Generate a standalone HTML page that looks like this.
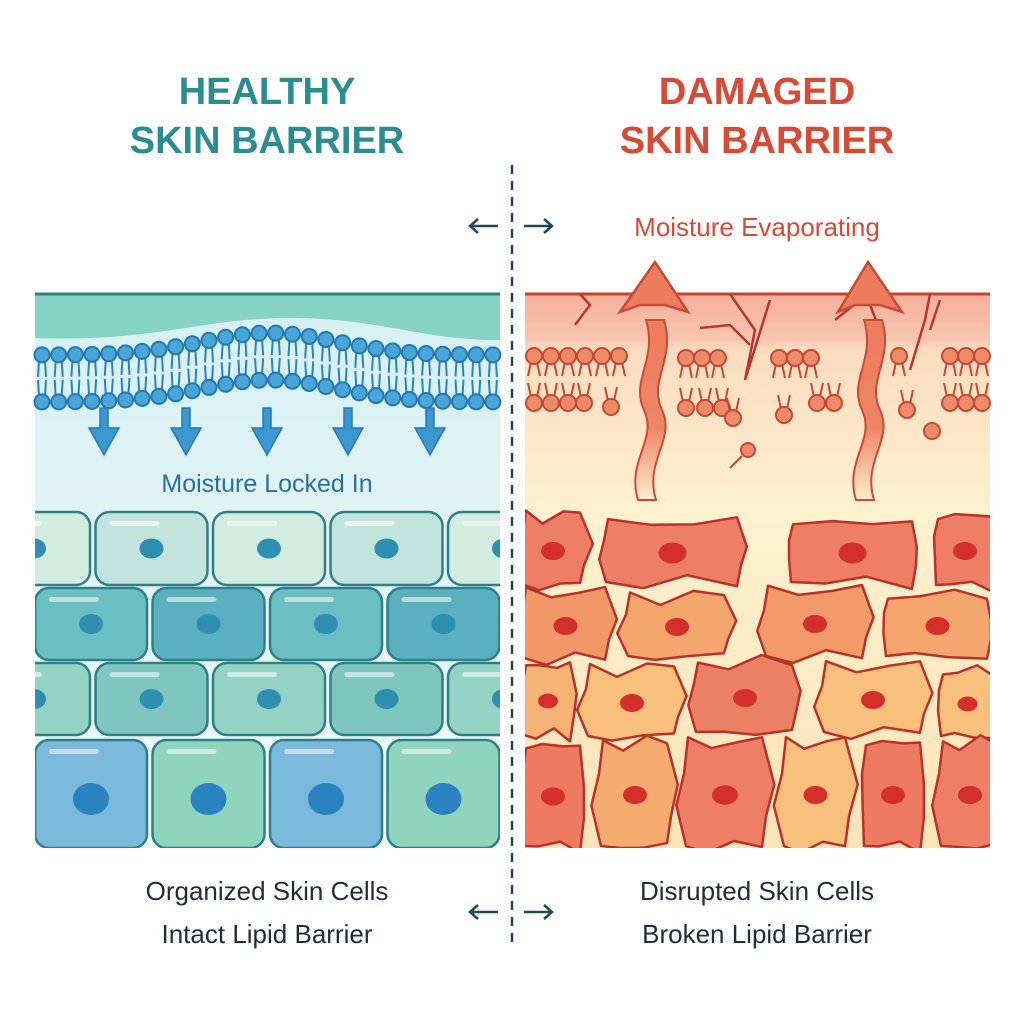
<!DOCTYPE html>
<html><head><meta charset="utf-8"><style>
html,body{margin:0;padding:0;background:#fff;width:1024px;height:1024px;overflow:hidden}
svg{display:block}
text{font-family:"Liberation Sans",sans-serif}
</style></head><body>
<svg id="s" width="1024" height="1024" viewBox="0 0 1024 1024" xmlns="http://www.w3.org/2000/svg">
<defs>
<linearGradient id="lbg" x1="0" y1="0" x2="0" y2="1"><stop offset="0" stop-color="#d6f0f2"/><stop offset="1" stop-color="#eef9fa"/></linearGradient>
<linearGradient id="rbg" x1="0" y1="0" x2="0" y2="1"><stop offset="0" stop-color="#f5b09c"/><stop offset="0.08" stop-color="#f8c4ae"/><stop offset="0.1" stop-color="#fbdcc0"/><stop offset="0.4" stop-color="#fdf1cf"/><stop offset="1" stop-color="#fbe3b8"/></linearGradient>
<linearGradient id="arr" x1="0" y1="1" x2="0" y2="0"><stop offset="0" stop-color="#f08a6c" stop-opacity="0"/><stop offset="0.4" stop-color="#ee8566"/><stop offset="1" stop-color="#ee7b5e"/></linearGradient>
</defs>
<text x="267" y="104" text-anchor="middle" font-size="38" font-weight="bold" fill="#2b8d92">HEALTHY</text>
<text x="267" y="153" text-anchor="middle" font-size="38" font-weight="bold" fill="#2b8d92">SKIN BARRIER</text>
<text x="757" y="104" text-anchor="middle" font-size="38" font-weight="bold" fill="#d64a36">DAMAGED</text>
<text x="757" y="153" text-anchor="middle" font-size="38" font-weight="bold" fill="#d64a36">SKIN BARRIER</text>
<text x="757" y="236" text-anchor="middle" font-size="26" fill="#d64a36">Moisture Evaporating</text>
<line x1="512" y1="165" x2="512" y2="948" stroke="#1f4a55" stroke-width="2.5" stroke-dasharray="9,7"/>
<g stroke="#1f4a55" stroke-width="2.5" fill="none">
<path d="M498 226H470M478 219L470 226L478 233M524 226H552M544 219L552 226L544 233"/>
<path d="M498 912H470M478 905L470 912L478 919M524 912H552M544 905L552 912L544 919"/>
</g>
<rect x="35" y="294" width="465" height="554" fill="url(#lbg)"/>
<path d="M35 294H500V340C420 340 380 318 290 318C200 318 160 342 35 338Z" fill="#86d2c4"/>
<line x1="35" y1="294" x2="500" y2="294" stroke="#2d7f82" stroke-width="3"/>
<g id="lipL"></g>
<g id="arrL" fill="#3b97cf" stroke="#2a79b0" stroke-width="1.5"></g>
<text x="267" y="492" text-anchor="middle" font-size="25" fill="#2b6f9e">Moisture Locked In</text>
<g id="cellsL"></g>
<rect x="525" y="294" width="465" height="554" fill="url(#rbg)"/>
<path d="M525 294H990" stroke="#c7412e" stroke-width="3"/>
<path d="M580 294L590 305L575 325M730 294L755 330L745 380L770 300M860 300L835 320M870 305L880 330M930 294L925 320L910 370M940 300L930 330" stroke="#b8362a" stroke-width="2.5" fill="none"/>
<path d="M700 328L730 325L750 345" stroke="#b8362a" stroke-width="2.5" fill="none"/>
<g id="lipR" stroke="#c24a33" stroke-width="2"></g>
<g id="cellsR"></g>
<path d="M638 500C626 460 658 440 644 410C630 380 658 360 646 320L664 320C676 360 648 380 662 410C676 440 644 460 656 500Z" fill="url(#arr)" stroke="#c94a35" stroke-width="2"/>
<path d="M620 312L655 262L688 312L665 305L640 305Z" fill="#ee7b5e" stroke="#c94a35" stroke-width="2.5"/>
<path d="M856 500C844 460 876 440 862 410C848 380 876 360 864 320L882 320C894 360 866 380 880 410C894 440 862 460 874 500Z" fill="url(#arr)" stroke="#c94a35" stroke-width="2"/>
<path d="M838 312L868 262L902 312L880 305L855 305Z" fill="#ee7b5e" stroke="#c94a35" stroke-width="2.5"/>
<text x="267" y="900" text-anchor="middle" font-size="26" fill="#1e2e38">Organized Skin Cells</text>
<text x="267" y="943" text-anchor="middle" font-size="26" fill="#1e2e38">Intact Lipid Barrier</text>
<text x="757" y="900" text-anchor="middle" font-size="26" fill="#1e2e38">Disrupted Skin Cells</text>
<text x="757" y="943" text-anchor="middle" font-size="26" fill="#1e2e38">Broken Lipid Barrier</text>
</svg>
<script>
const NS="http://www.w3.org/2000/svg";
function el(p,t,a){const e=document.createElementNS(NS,t);for(const k in a)e.setAttribute(k,a[k]);p.appendChild(e);return e;}
const L=document.getElementById('lipL');
for(let x=42;x<=494;x+=16.7){
 const d=-22*Math.exp(-Math.pow((x-270)/95,2));
 const t=355+d,b=402+d;
 el(L,'path',{d:`M${x-3} ${t+6}L${x-4} ${t+22}M${x+3} ${t+6}L${x+4} ${t+22}M${x-3} ${b-6}L${x-4} ${b-22}M${x+3} ${b-6}L${x+4} ${b-22}`,stroke:'#2a82bb','stroke-width':2,fill:'none'});
}
for(let x=42;x<=494;x+=16.7){
 const d=-22*Math.exp(-Math.pow((x-270)/95,2));
 el(L,'circle',{cx:x,cy:355+d,r:7.5,fill:'#4aa6d8',stroke:'#2477b0','stroke-width':2});
 el(L,'circle',{cx:x,cy:402+d,r:7.5,fill:'#4aa6d8',stroke:'#2477b0','stroke-width':2});
}
const A=document.getElementById('arrL');
[104,186,267,348,430].forEach(x=>{el(A,'path',{d:`M${x-4} 408V428H${x-15}L${x} 455L${x+15} 428H${x+4}V408Z`});});
const C=document.getElementById('cellsL');
const rows=[[512,585,-22,'#d2ece0','#c3e4dc'],[588,660,35,'#6bbfc2','#5bb0c0'],[663,735,-22,'#94d3c4','#7fc6c0'],[740,848,35,'#7ab8dc','#8fd4bc']];
const cl=el(C,'clipPath',{id:'cl'});el(cl,'rect',{x:35,y:294,width:465,height:554});
const g=el(C,'g',{'clip-path':'url(#cl)'});
rows.forEach((r,i)=>{
 for(let k=0;k<6;k++){
  const x=r[2]+k*117.5;const w=112;
  el(g,'rect',{x:x,y:r[0],width:w,height:r[1]-r[0],rx:14,fill:k%2?r[4]:r[3],stroke:'#2f7f88','stroke-width':2.5});
  el(g,'rect',{x:x+14,y:r[0]+9,width:50,height:5,rx:2.5,fill:'#fff',opacity:0.55});
  const rr=i==3?16:10;
  el(g,'ellipse',{cx:x+w/2,cy:(r[0]+r[1])/2+(i==3?5:0),rx:rr+2,ry:rr,fill:i==3?'#2b82c0':'#2f8fb0'});
 }
});
const R=document.getElementById('lipR');
function lip(x,y,up){
 const s=up?1:-1;
 el(R,'path',{d:`M${x-3} ${y+6*s}L${x-6} ${y+20*s}M${x+3} ${y+6*s}L${x+6} ${y+20*s}`,fill:'none'});
 el(R,'circle',{cx:x,cy:y,r:8,fill:'#ee8a6a'});
}
[534,551,568,585,602,619].forEach(x=>lip(x,356,1));
[534,551,568,584].forEach(x=>lip(x,403,0));lip(611,407,0);
[686,702,718].forEach(x=>lip(x,358,1));[686,705,722].forEach(x=>lip(x,408,0));lip(733,418,0);
[779,795,811].forEach(x=>lip(x,358,1));[784].forEach(x=>lip(x,415,0));[817,834].forEach(x=>lip(x,403,0));
lip(899,356,1);lip(907,410,0);[950,966,982].forEach(x=>lip(x,356,1));[950,966,982].forEach(x=>lip(x,403,0));
el(R,'circle',{cx:932,cy:431,r:8,fill:'#ee8a6a'});
el(R,'circle',{cx:748,cy:450,r:7,fill:'#ee8a6a'});el(R,'path',{d:'M742 456L730 468'});
const CR=document.getElementById('cellsR');
const cr=el(CR,'clipPath',{id:'cr'});el(cr,'rect',{x:525,y:294,width:465,height:554});
const h=el(CR,'g',{'clip-path':'url(#cr)'});
function blob(x,y,w,hh,fill,nuc){
 const j=(a)=>(Math.sin(x*0.13+y*0.07+a*2.3)*5);
 const d=`M${x+8} ${y+j(1)}L${x+w*0.35} ${y+4+j(2)}L${x+w*0.65} ${y-2+j(3)}L${x+w-8} ${y+j(4)}L${x+w+j(5)} ${y+hh*0.4}L${x+w-4} ${y+hh*0.7}L${x+w-8} ${y+hh+j(6)}L${x+w*0.6} ${y+hh-4+j(7)}L${x+w*0.3} ${y+hh+j(8)}L${x+6} ${y+hh-2}L${x+j(9)} ${y+hh*0.6}L${x+4} ${y+hh*0.3}Z`;
 el(h,'path',{d:d,fill:fill,stroke:'#b83228','stroke-width':2.5,'stroke-linejoin':'round'});
 el(h,'ellipse',{cx:x+w/2,cy:y+hh/2,rx:nuc,ry:nuc*0.75,fill:'#d42f2a'});
}
blob(518,515,70,72,'#ee7e66',12);blob(600,522,145,62,'#ee7e66',14);blob(785,522,135,62,'#ee7e66',14);blob(930,515,70,72,'#ee7e66',12);
blob(518,592,95,68,'#f29868',12);blob(622,596,110,62,'#f5a66e',12);blob(760,590,110,68,'#f29a6a',12);blob(880,594,115,64,'#f5a66e',12);
blob(518,665,60,72,'#f5b476',10);blob(582,668,100,70,'#f8c07c',12);blob(690,662,110,72,'#ec8064',12);blob(818,666,110,68,'#f8c07c',12);blob(935,670,65,68,'#f8c07c',10);
blob(518,745,70,103,'#ee7a62',12);blob(595,742,80,106,'#f5aa70',12);blob(680,742,90,106,'#ee7e66',13);blob(778,742,75,106,'#f8c07c',12);blob(858,742,70,106,'#ee7a62',12);blob(935,742,70,106,'#ee7e66',12);
</script>
</body></html>
